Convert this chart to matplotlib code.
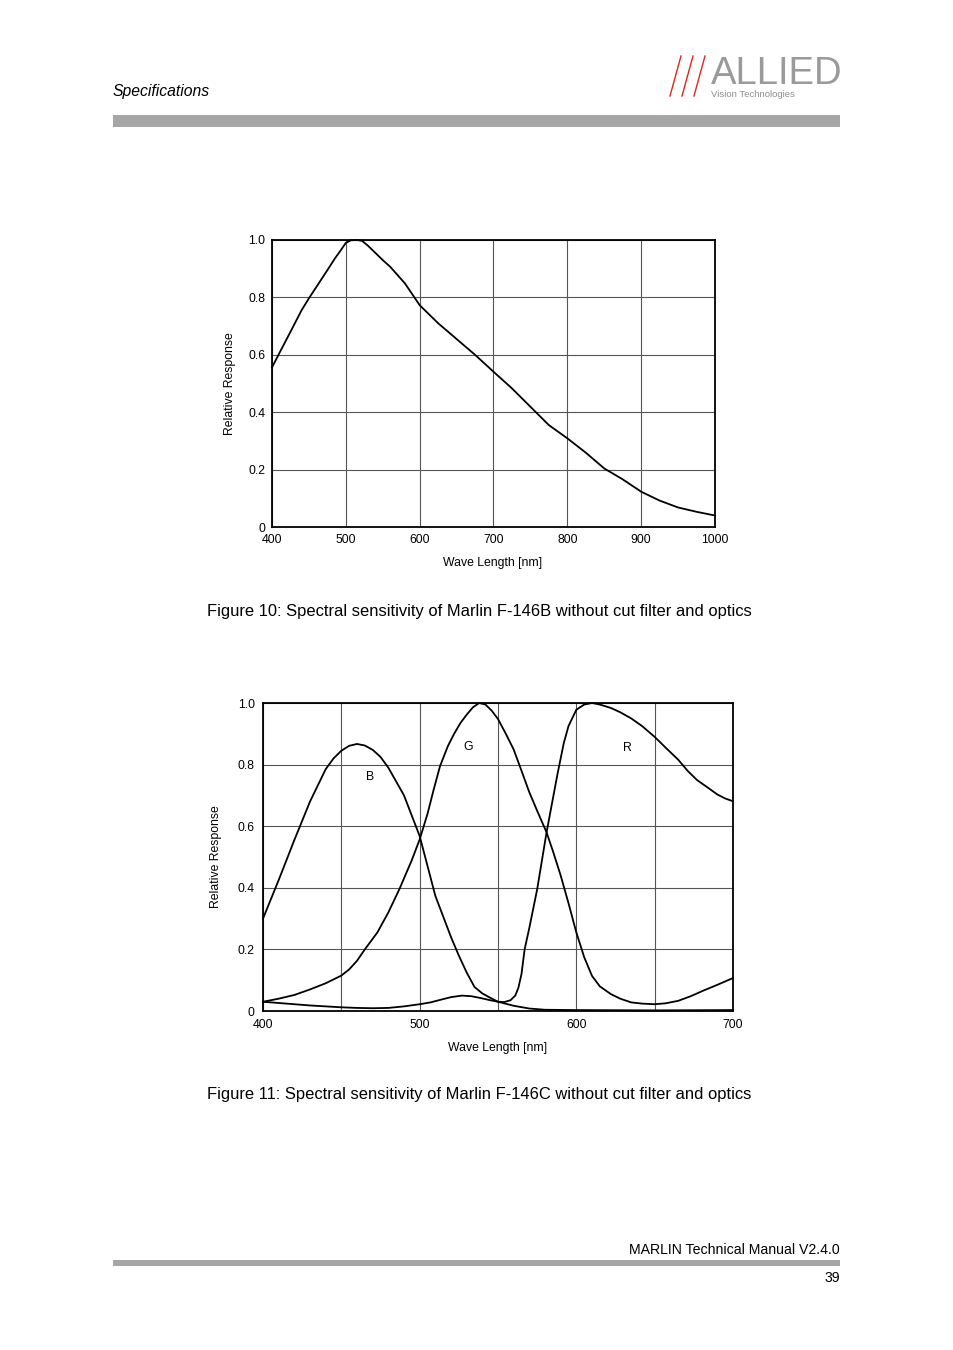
import matplotlib
matplotlib.use("Agg")
import matplotlib.pyplot as plt
from matplotlib.lines import Line2D
from matplotlib.patches import Rectangle
from matplotlib import font_manager

# ---- data ----
wl_mono = [400, 410, 425, 440, 450, 460, 475, 485, 492, 500, 507, 515, 522, 530, 540,
           550, 560, 580, 600, 625, 650, 675, 700, 725, 750, 775, 800, 825, 850, 875,
           900, 925, 950, 975, 1000]
resp_mono = [0.556, 0.606, 0.68, 0.755, 0.797, 0.836, 0.895, 0.935, 0.96, 0.99, 0.999,
             1.0, 0.997, 0.98, 0.955, 0.93, 0.907, 0.849, 0.773, 0.71, 0.655, 0.6, 0.541,
             0.483, 0.419, 0.355, 0.309, 0.259, 0.204, 0.166, 0.123, 0.092, 0.068, 0.053,
             0.040]

wl_b = [400, 410, 420, 430, 440, 445, 450, 455, 460, 465, 470, 475, 480, 490, 500, 510,
        520, 525, 530, 535, 540, 545, 550, 560, 570, 580, 600, 650, 700]
resp_b = [0.30, 0.425, 0.555, 0.68, 0.785, 0.82, 0.845, 0.861, 0.867, 0.862, 0.848, 0.825,
          0.79, 0.70, 0.568, 0.374, 0.24, 0.18, 0.125, 0.078, 0.057, 0.043, 0.030,
          0.017, 0.008, 0.004, 0.003, 0.002, 0.003]

wl_g = [400, 410, 420, 430, 440, 450, 455, 460, 465, 473, 480, 487, 495, 500, 505, 509,
        513, 518, 522, 526, 530, 534, 538, 542, 546, 550, 555, 560, 565, 570, 575, 581,
        585, 590, 595, 600, 605, 610, 615, 622, 628, 635, 642, 650, 657, 665, 673, 681,
        690, 700]
resp_g = [0.03, 0.04, 0.052, 0.07, 0.09, 0.115, 0.135, 0.163, 0.2, 0.255, 0.32, 0.395,
          0.49, 0.557, 0.64, 0.72, 0.795, 0.86, 0.90, 0.935, 0.962, 0.986, 1.0, 0.995,
          0.975, 0.948, 0.9, 0.849, 0.78, 0.71, 0.65, 0.58, 0.52, 0.44, 0.35, 0.255,
          0.175, 0.114, 0.08, 0.055, 0.04, 0.028, 0.024, 0.022, 0.025, 0.033, 0.048,
          0.066, 0.085, 0.107]

wl_r = [400, 410, 420, 430, 440, 450, 460, 470, 480, 490, 500, 507, 513, 520, 527, 533,
        539, 545, 550, 554, 558, 561, 563, 565, 567, 570, 575, 581, 588, 592, 595, 600,
        605, 610, 615, 622, 628, 635, 642, 650, 657, 665, 671, 677, 684, 690, 695, 700]
resp_r = [0.03, 0.026, 0.022, 0.018, 0.015, 0.012, 0.01, 0.009, 0.01, 0.015, 0.022, 0.028,
          0.036, 0.045, 0.05, 0.048, 0.042, 0.035, 0.03, 0.029, 0.035, 0.05, 0.075, 0.12,
          0.2, 0.27, 0.395, 0.58, 0.77, 0.87, 0.925, 0.978, 0.995, 1.0, 0.995, 0.984,
          0.97, 0.95, 0.925, 0.89, 0.855, 0.816, 0.78, 0.75, 0.725, 0.703, 0.69, 0.681]

y_ticks = [0, 0.2, 0.4, 0.6, 0.8, 1.0]
y_tick_labels = ["0", "0.2", "0.4", "0.6", "0.8", "1.0"]
x_ticks_mono = [400, 500, 600, 700, 800, 900, 1000]
x_ticks_color = [400, 500, 600, 700]
x_grid_color = [450, 550, 650]

captions = ["Figure 10: Spectral sensitivity of Marlin F-146B without cut filter and optics",
            "Figure 11: Spectral sensitivity of Marlin F-146C without cut filter and optics"]


def pick_font(names):
    have = {f.name for f in font_manager.fontManager.ttflist}
    for n in names:
        if n in have:
            return n
    return "DejaVu Sans"


arial = pick_font(["Liberation Sans", "Arial", "DejaVu Sans"])
body = pick_font(["Liberation Sans", "DejaVu Sans"])

W, H = 954, 1350
fig = plt.figure(figsize=(9.54, 13.5), dpi=100)


def fx(x):
    return x / W


def fy(y):
    return 1 - y / H


def style_axes(ax, xmin, xmax, xticks):
    ax.set_xlim(xmin, xmax)
    ax.set_ylim(0, 1.0)
    ax.set_yticks(y_ticks)
    ax.set_yticklabels(y_tick_labels)
    ax.set_xticks(xticks)
    ax.grid(True, color="#555555", linewidth=0.8)
    ax.set_axisbelow(True)
    for s in ax.spines.values():
        s.set_linewidth(1.3)
        s.set_color("black")
    ax.tick_params(length=0, labelsize=8.8)
    for lab in ax.get_xticklabels() + ax.get_yticklabels():
        lab.set_fontfamily(arial)


# ---- Figure 10 ----
ax1 = fig.add_axes([fx(272), fy(527), 443 / W, 287 / H])
style_axes(ax1, 400, 1000, x_ticks_mono)
ax1.tick_params(axis="x", pad=5)
ax1.tick_params(axis="y", pad=5)
ax1.plot(wl_mono, resp_mono, color="black", linewidth=1.3, clip_on=False)
ax1.set_xlabel("Wave Length [nm]", fontsize=8.8, family=arial, va="center")
ax1.xaxis.set_label_coords(0.499, -0.125)
ax1.set_ylabel("Relative Response", fontsize=8.8, family=arial, va="center")
ax1.yaxis.set_label_coords(-0.095, 0.5)

# ---- Figure 11 ----
ax2 = fig.add_axes([fx(263), fy(1011), 470 / W, 308 / H])
style_axes(ax2, 400, 700, x_ticks_color)
ax2.set_xticks(x_grid_color, minor=True)
ax2.grid(True, which="minor", axis="x", color="#555555", linewidth=0.8)
ax2.tick_params(which="minor", length=0)
ax2.tick_params(axis="x", pad=6)
ax2.tick_params(axis="y", pad=6)
for wl, rs in [(wl_b, resp_b), (wl_g, resp_g), (wl_r, resp_r)]:
    ax2.plot(wl, rs, color="black", linewidth=1.3, clip_on=False)
ax2.text(468.3, 0.76, "B", fontsize=8.8, family=arial, ha="center", va="center")
ax2.text(530.8, 0.857, "G", fontsize=8.8, family=arial, ha="center", va="center")
ax2.text(632.3, 0.854, "R", fontsize=8.8, family=arial, ha="center", va="center")
ax2.set_xlabel("Wave Length [nm]", fontsize=8.8, family=arial, va="center")
ax2.xaxis.set_label_coords(0.5, -0.12)
ax2.set_ylabel("Relative Response", fontsize=8.8, family=arial, va="center")
ax2.yaxis.set_label_coords(-0.1, 0.5)

# ---- captions ----
fig.text(fx(479.5), fy(611), captions[0], fontsize=11.85, family=body,
         ha="center", va="center")
fig.text(fx(479.5), fy(1095), captions[1], fontsize=11.85, family=body,
         ha="center", va="center")

# ---- page header ----
fig.text(fx(113), fy(96), "Specifications", fontsize=11.3, family=body,
         style="italic", ha="left", va="baseline")
fig.add_artist(Rectangle((fx(113), fy(127)), 727 / W, 12 / H,
                         transform=fig.transFigure, color="#a6a6a6", lw=0))
for x0 in [670, 682, 694]:
    fig.add_artist(Line2D([fx(x0), fx(x0 + 11)], [fy(96), fy(56)],
                          transform=fig.transFigure, color="#e2231a", linewidth=1.0))
fig.text(fx(711), fy(84), "ALLIED", fontsize=27.5, family=body,
         color="#9a9a9a", ha="left", va="baseline")
fig.text(fx(711), fy(97), "Vision Technologies", fontsize=6.8, family=body,
         color="#8e8e8e", ha="left", va="baseline")

# ---- page footer ----
fig.text(fx(840), fy(1254), "MARLIN Technical Manual V2.4.0", fontsize=10.2, family=body,
         ha="right", va="baseline")
fig.add_artist(Rectangle((fx(113), fy(1266)), 727 / W, 6 / H,
                         transform=fig.transFigure, color="#a6a6a6", lw=0))
fig.text(fx(840), fy(1282), "39", fontsize=10.2, family=body, ha="right", va="baseline")

fig.savefig("out.png", dpi=100)
